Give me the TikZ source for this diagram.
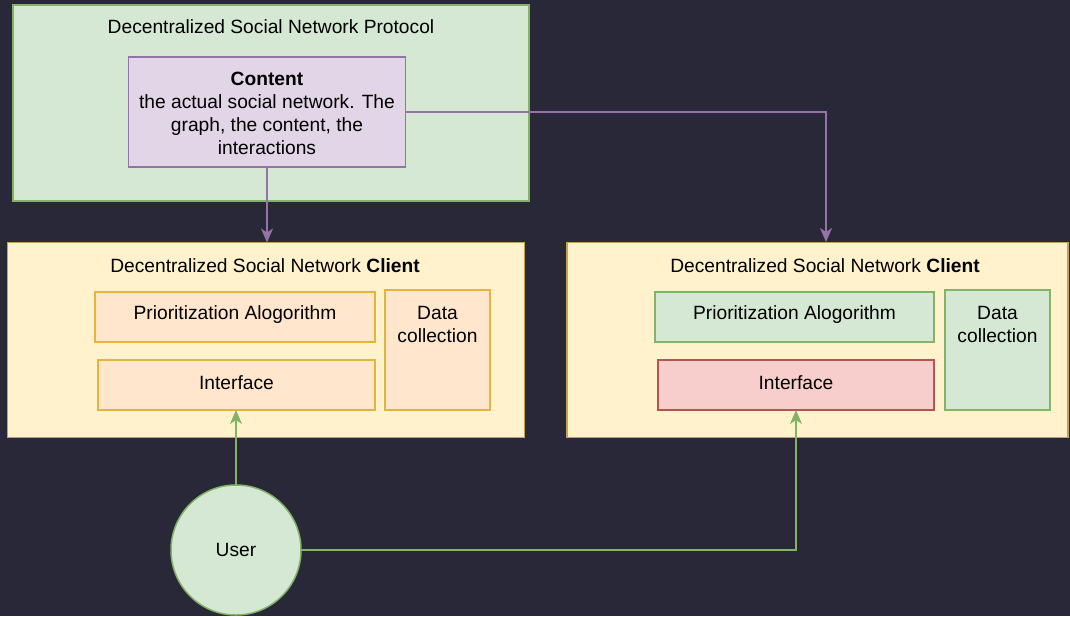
\documentclass[tikz,border=0pt]{standalone}
\usepackage{fontspec}
\setmainfont{Liberation Sans}
\usetikzlibrary{arrows.meta}
\definecolor{bg}{HTML}{282838}
\definecolor{gfill}{HTML}{D5E8D4}\definecolor{gline}{HTML}{82B366}
\definecolor{pfill}{HTML}{E1D5E7}\definecolor{pline}{HTML}{9673A6}
\definecolor{yfill}{HTML}{FFF2CC}\definecolor{yline}{HTML}{D6B656}
\definecolor{ofill}{HTML}{FFE6CC}\definecolor{oline}{HTML}{D79B00}
\definecolor{rfill}{HTML}{F8CECC}\definecolor{rline}{HTML}{B85450}
\tikzset{
  box/.style={draw, line width=1.5pt, inner sep=0pt, outer sep=0pt},
  greenbox/.style={box, fill=gfill, draw=gline},
  purplebox/.style={box, fill=pfill, draw=pline},
  yellowbox/.style={box, fill=yfill, draw=yline!90!black},
  orangebox/.style={box, fill=ofill, draw=oline!70!yfill},
  redbox/.style={box, fill=rfill, draw=rline},
  txt/.style={font=\fontsize{19.2}{23}\selectfont, text=black, align=center, inner sep=0pt},
  purplearrow/.style={draw=pline, line width=1.5pt, -{Stealth[length=14pt,width=12pt,inset=4pt]}},
  greenarrow/.style={draw=gline, line width=1.5pt, -{Stealth[length=14pt,width=12pt,inset=4pt]}},
}
\begin{document}
\begin{tikzpicture}[x=1pt,y=-1pt]
\fill[bg] (0,0) rectangle (1070,616);
\useasboundingbox (0,0) rectangle (1070,616);
% protocol
\node[greenbox, minimum width=516, minimum height=196] (proto) at (271,103) {};
\node[txt] (prototitle) at (271,27) {Decentralized Social Network Protocol};
\node[purplebox, minimum width=277, minimum height=110] (content) at (267,112) {};
\node[txt] (contenttxt) at (267,113) {\textbf{Content}\\the actual social network. The\\graph, the content, the\\interactions};
% left client
\node[yellowbox, minimum width=517, minimum height=195] (lclient) at (266,340) {};
\node[txt] (ltitle) at (265,266) {Decentralized Social Network \textbf{Client}};
\node[orangebox, minimum width=280, minimum height=50] (lpa) at (235,317) {};
\node[txt] (lpatxt) at (235,315) {Prioritization Alogorithm};
\node[orangebox, minimum width=277, minimum height=50] (lif) at (236.5,385) {};
\node[txt] (liftxt) at (236.5,383) {Interface};
\node[orangebox, minimum width=105, minimum height=120] (ldc) at (437.5,350) {};
\node[txt] (ldctxt) at (437.5,324) {Data\\collection};
% right client
\node[yellowbox, minimum width=501, minimum height=195] (rclient) at (817.5,340) {};
\node[txt] (rtitle) at (825,266) {Decentralized Social Network \textbf{Client}};
\node[greenbox, minimum width=279, minimum height=50] (rpa) at (794.5,317) {};
\node[txt] (rpatxt) at (794.5,315) {Prioritization Alogorithm};
\node[redbox, minimum width=276, minimum height=50] (rif) at (796,385) {};
\node[txt] (riftxt) at (796,383) {Interface};
\node[greenbox, minimum width=105, minimum height=120] (rdc) at (997.5,350) {};
\node[txt] (rdctxt) at (997.5,324) {Data\\collection};
% user
\node[greenbox, circle, minimum size=130] (user) at (236,550) {};
\node[txt] (usertxt) at (236,550) {User};
% connectors
\coordinate (rtop) at (826,242);
\draw[purplearrow] (content.south) -- (content.south |- lclient.north);
\draw[purplearrow] (content.east) -| (rtop);
\draw[greenarrow] (user.north) -- (user.north |- lif.south);
\draw[greenarrow] (user.east) -| (rif.south);
\end{tikzpicture}
\end{document}
